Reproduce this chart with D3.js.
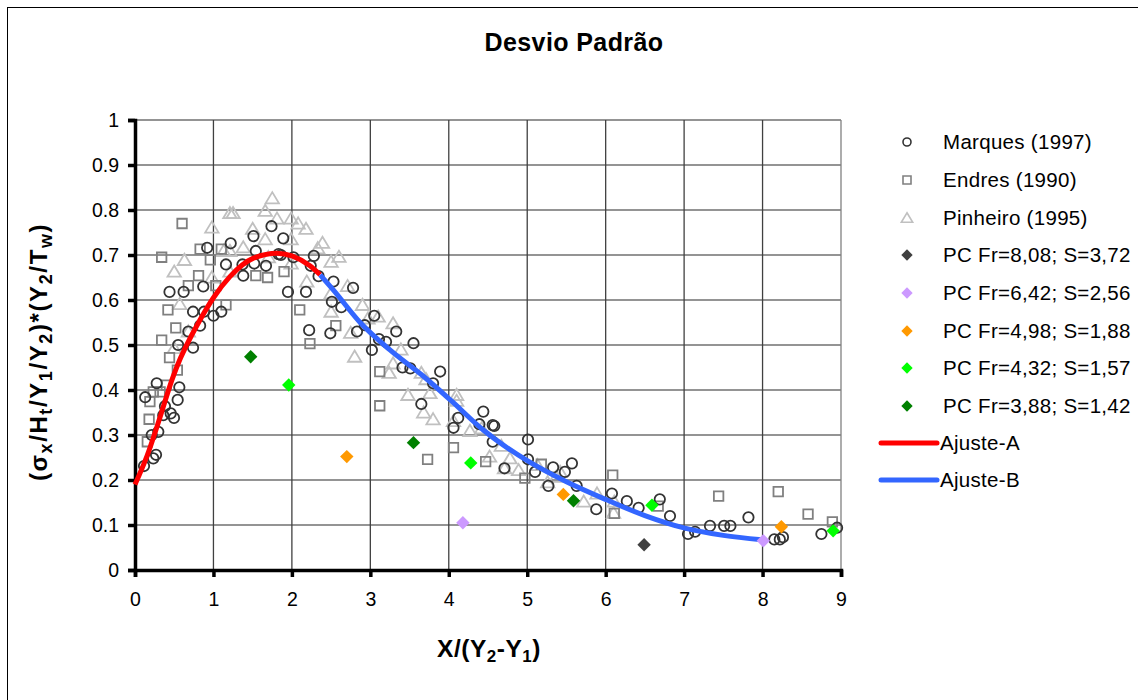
<!DOCTYPE html>
<html>
<head>
<meta charset="utf-8">
<script src="https://cdn.jsdelivr.net/npm/d3@7"></script>
<style>
body { margin: 0; background: #fff; }
text { font-family: "Liberation Sans", Arial, sans-serif; }
</style>
</head>
<body>
<script>
// data: [x, y]
var marques = [[0.13,0.384],[0.115,0.231],[0.233,0.248],[0.268,0.256],[0.213,0.3],[0.297,0.307],[0.36,0.344],
  [0.455,0.348],[0.497,0.338],[0.382,0.364],[0.544,0.378],[0.565,0.406],[0.277,0.415],[0.55,0.5],[0.74,0.494],
  [0.68,0.53],[0.83,0.543],[0.74,0.574],[0.88,0.574],[1.0,0.565],[1.1,0.574],[0.44,0.618],[0.62,0.618],[0.87,0.63],
  [1.38,0.654],[1.16,0.679],[1.37,0.679],[1.52,0.681],[1.67,0.676],[0.92,0.716],[1.22,0.726],[1.54,0.709],
  [1.51,0.742],[1.74,0.764],[1.89,0.737],[1.83,0.702],[1.86,0.7],[2.02,0.695],[1.95,0.618],[2.18,0.618],
  [2.22,0.533],[2.28,0.698],[2.24,0.676],[2.34,0.653],[2.53,0.641],[2.78,0.627],[2.51,0.596],[2.63,0.584],
  [3.05,0.565],[2.49,0.526],[2.83,0.53],[2.93,0.544],[3.33,0.53],[3.11,0.513],[3.2,0.507],[3.55,0.504],
  [3.02,0.489],[3.41,0.45],[3.51,0.448],[3.89,0.441],[3.8,0.415],[3.65,0.369],[4.12,0.338],[4.06,0.316],
  [4.44,0.352],[4.39,0.324],[4.56,0.322],[4.58,0.32],[4.56,0.285],[5.01,0.29],[5.01,0.246],[4.71,0.226],
  [5.33,0.228],[5.48,0.218],[5.57,0.237],[5.63,0.187],[5.27,0.187],[5.88,0.135],[6.08,0.17],[6.27,0.153],
  [6.42,0.138],[5.1,0.218],[6.69,0.157],[6.82,0.12],[7.05,0.08],[7.14,0.085],[7.33,0.098],[7.51,0.098],
  [7.59,0.098],[7.82,0.117],[8.15,0.068],[8.22,0.068],[8.26,0.073],[8.75,0.08],[8.95,0.094]];

var endres = [[0.19,0.374],[0.18,0.335],[0.157,0.285],[0.233,0.396],[0.32,0.396],[0.4,0.411],[0.6,0.77],
  [0.34,0.695],[0.83,0.713],[0.96,0.689],[1.1,0.713],[0.81,0.654],[1.03,0.632],[0.68,0.632],[1.54,0.654],
  [1.69,0.65],[1.9,0.663],[0.42,0.578],[1.16,0.589],[0.52,0.538],[2.1,0.578],[0.34,0.511],[0.44,0.472],
  [0.54,0.444],[2.23,0.503],[2.56,0.543],[3.12,0.441],[3.12,0.365],[3.73,0.246],[4.06,0.272],[4.47,0.241],
  [4.97,0.204],[5.18,0.235],[6.09,0.211],[6.11,0.126],[6.67,0.142],[7.44,0.164],[8.2,0.174],[8.58,0.124],
  [8.89,0.107]];

var pinheiro = [[1.75,0.826],[1.66,0.798],[1.21,0.793],[1.25,0.793],[0.98,0.761],[1.81,0.781],[1.99,0.781],
  [2.08,0.77],[2.18,0.758],[1.5,0.758],[1.66,0.735],[1.99,0.735],[0.63,0.689],[0.5,0.663],[0.98,0.65],
  [1.13,0.709],[1.21,0.709],[1.38,0.717],[1.21,0.663],[1.7,0.695],[1.99,0.681],[2.19,0.641],[0.57,0.591],
  [0.68,0.53],[0.5,0.493],[2.39,0.727],[2.33,0.715],[2.6,0.696],[2.5,0.685],[2.71,0.631],[2.5,0.615],
  [2.5,0.574],[2.9,0.589],[3.1,0.563],[2.97,0.559],[3.29,0.548],[2.75,0.527],[3.39,0.49],[3.29,0.459],
  [2.8,0.474],[3.24,0.438],[3.65,0.438],[3.71,0.424],[3.48,0.389],[3.76,0.393],[4.1,0.389],[4.1,0.376],
  [3.68,0.35],[3.8,0.335],[4.06,0.331],[4.27,0.309],[4.42,0.315],[4.67,0.276],[4.52,0.252],[4.78,0.248],
  [4.71,0.226],[4.89,0.222],[5.13,0.233],[5.26,0.195],[5.42,0.218],[5.37,0.207],[5.72,0.152],[5.89,0.17],
  [6.11,0.152],[6.1,0.127]];

var pc808 = [[6.49,0.056]];
var pc642 = [[4.18,0.105],[8.01,0.065]];
var pc498 = [[2.7,0.252],[5.46,0.168],[8.24,0.096]];
var pc432 = [[1.96,0.411],[4.28,0.238],[6.59,0.144],[8.9,0.087]];
var pc388 = [[1.475,0.474],[3.55,0.283],[5.59,0.154]];

var ajusteA = [[0,0.19],[0.15,0.252],[0.32,0.34],[0.47,0.422],[0.53,0.45],[0.83,0.556],[1.0,0.605],
  [1.21,0.652],[1.51,0.693],[1.81,0.704],[2.0,0.698],[2.23,0.676],[2.36,0.656]];
var ajusteB = [[2.36,0.656],[2.53,0.622],[2.87,0.55],[3.25,0.489],[3.68,0.43],[4.02,0.378],[4.44,0.311],
  [4.99,0.244],[5.5,0.196],[6.01,0.156],[6.5,0.121],[7.01,0.093],[7.5,0.077],[7.99,0.067]];

var xTicks = [0,1,2,3,4,5,6,7,8,9];
var yTicks = [0,0.1,0.2,0.3,0.4,0.5,0.6,0.7,0.8,0.9,1];

var W = 1138, H = 700;
var margin = {top: 120, left: 135, right: 297, bottom: 130};

var svg = d3.select("body").append("svg")
    .attr("width", W)
    .attr("height", H);

// outer chart frame
svg.append("rect")
    .attr("x", 7.5).attr("y", 7.5)
    .attr("width", W + 20).attr("height", H + 20)
    .attr("fill", "none").attr("stroke", "#000").attr("stroke-width", 1);

var x = d3.scaleLinear().domain([0, 9]).range([margin.left, W - margin.right]);
var y = d3.scaleLinear().domain([0, 1]).range([H - margin.bottom, margin.top]);

// grid
svg.append("g").selectAll("line")
    .data(yTicks.slice(1))
    .enter().append("line")
    .attr("x1", x(0)).attr("x2", x(9))
    .attr("y1", function(d) { return y(d); }).attr("y2", function(d) { return y(d); })
    .attr("stroke", "#707070").attr("stroke-width", 1.3);

svg.append("g").selectAll("line")
    .data(xTicks.slice(1))
    .enter().append("line")
    .attr("x1", function(d) { return x(d); }).attr("x2", function(d) { return x(d); })
    .attr("y1", y(0)).attr("y2", y(1))
    .attr("stroke", function(d) { return d == 9 ? "#808080" : "#404040"; })
    .attr("stroke-width", 1.3);

// axes
var xAxis = svg.append("g")
    .attr("transform", "translate(0," + y(0) + ")")
    .call(d3.axisBottom(x).tickValues(xTicks).tickSize(7).tickPadding(15).tickFormat(d3.format("d")));
var yAxis = svg.append("g")
    .attr("transform", "translate(" + x(0) + ",0)")
    .call(d3.axisLeft(y).tickValues(yTicks).tickSize(7).tickPadding(9).tickFormat(function(d) { return d == 0 || d == 1 ? d : d3.format(".1f")(d); }));

[xAxis, yAxis].forEach(function(a) {
    a.select(".domain").attr("stroke", "#000").attr("stroke-width", 3.5);
    a.selectAll(".tick line").attr("stroke", "#000").attr("stroke-width", 3.5);
    a.selectAll(".tick text").attr("font-size", 19.5).attr("fill", "#000")
        .style("font-family", "'Liberation Sans', Arial, sans-serif");
});

// fitted curves
var line = d3.line()
    .x(function(d) { return x(d[0]); })
    .y(function(d) { return y(d[1]); })
    .curve(d3.curveMonotoneX);

// markers
var plot = svg.append("g");

function circles(data, r, color) {
    plot.append("g").selectAll("circle")
        .data(data).enter().append("circle")
        .attr("cx", function(d) { return x(d[0]); })
        .attr("cy", function(d) { return y(d[1]); })
        .attr("r", r)
        .attr("fill", "none").attr("stroke", color).attr("stroke-width", 1.8);
}
function symbols(data, type, size, fill, stroke) {
    plot.append("g").selectAll("path")
        .data(data).enter().append("path")
        .attr("transform", function(d) { return "translate(" + x(d[0]) + "," + y(d[1]) + ")"; })
        .attr("d", d3.symbol().type(type).size(size))
        .attr("fill", fill)
        .attr("stroke", stroke)
        .attr("stroke-width", 1.8);
}
var diamond = {
    draw: function(ctx, size) {
        var r = Math.sqrt(size / 2);
        ctx.moveTo(0, -r); ctx.lineTo(r, 0); ctx.lineTo(0, r); ctx.lineTo(-r, 0); ctx.closePath();
    }
};
var triangle = {
    draw: function(ctx, size) {
        var s = Math.sqrt(size);
        ctx.moveTo(0, -s * 0.55); ctx.lineTo(s * 0.6, s * 0.45); ctx.lineTo(-s * 0.6, s * 0.45); ctx.closePath();
    }
};

symbols(pinheiro, triangle, 125, "none", "#c0c0c0");
symbols(endres, d3.symbolSquare, 90, "none", "#808080");
circles(marques, 5.2, "#333333");

plot.append("path").datum(ajusteA)
    .attr("d", line).attr("fill", "none").attr("stroke", "#ff0000").attr("stroke-width", 5);
plot.append("path").datum(ajusteB)
    .attr("d", line).attr("fill", "none").attr("stroke", "#3366ff").attr("stroke-width", 5);

var pcColors = ["#404040", "#cc99ff", "#ff9900", "#00ff00", "#008000"];
[pc808, pc642, pc498, pc432, pc388].forEach(function(s, i) {
    symbols(s, diamond, 90, pcColors[i], "none");
});

// title and axis titles
svg.append("text")
    .attr("x", 574).attr("y", 51)
    .attr("text-anchor", "middle")
    .attr("font-size", 25).attr("font-weight", "bold")
    .attr("letter-spacing", 0.4)
    .text("Desvio Padrão");

var xt = svg.append("text")
    .attr("x", 489).attr("y", 657)
    .attr("text-anchor", "middle")
    .attr("font-size", 24.5).attr("font-weight", "bold")
    .attr("letter-spacing", 0.5);
xt.append("tspan").text("X/(Y");
xt.append("tspan").attr("font-size", 17).attr("dy", 5).text("2");
xt.append("tspan").attr("dy", -5).text("-Y");
xt.append("tspan").attr("font-size", 17).attr("dy", 5).text("1");
xt.append("tspan").attr("dy", -5).text(")");

var yt = svg.append("text")
    .attr("transform", "translate(47,352) rotate(-90)")
    .attr("text-anchor", "middle")
    .attr("font-size", 24).attr("font-weight", "bold")
    .attr("letter-spacing", 1.6);
var ySub = 18;
yt.append("tspan").text("(σ");
yt.append("tspan").attr("font-size", ySub).attr("dy", 5).text("x");
yt.append("tspan").attr("dy", -5).text("/H");
yt.append("tspan").attr("font-size", ySub).attr("dy", 5).text("t");
yt.append("tspan").attr("dy", -5).text("/Y");
yt.append("tspan").attr("font-size", ySub).attr("dy", 5).text("1");
yt.append("tspan").attr("dy", -5).text("/Y");
yt.append("tspan").attr("font-size", ySub).attr("dy", 5).text("2");
yt.append("tspan").attr("dy", -5).text(")*(Y");
yt.append("tspan").attr("font-size", ySub).attr("dy", 5).text("2");
yt.append("tspan").attr("dy", -5).text("/T");
yt.append("tspan").attr("font-size", ySub).attr("dy", 5).text("w");
yt.append("tspan").attr("dy", -5).text(")");

// legend
var legendItems = [
    {label: "Marques (1997)", kind: "circle", color: "#333333"},
    {label: "Endres (1990)", kind: "square", color: "#808080"},
    {label: "Pinheiro (1995)", kind: "triangle", color: "#c0c0c0"},
    {label: "PC Fr=8,08; S=3,72", kind: "diamond", color: pcColors[0]},
    {label: "PC Fr=6,42; S=2,56", kind: "diamond", color: pcColors[1]},
    {label: "PC Fr=4,98; S=1,88", kind: "diamond", color: pcColors[2]},
    {label: "PC Fr=4,32; S=1,57", kind: "diamond", color: pcColors[3]},
    {label: "PC Fr=3,88; S=1,42", kind: "diamond", color: pcColors[4]},
    {label: "Ajuste-A", kind: "line", color: "#ff0000"},
    {label: "Ajuste-B", kind: "line", color: "#3366ff"}
];
var legendY = [142, 180, 218, 255, 293, 331, 368, 406, 443, 480];

var lg = svg.append("g").selectAll("g")
    .data(legendItems).enter().append("g")
    .attr("transform", function(d, i) { return "translate(0," + legendY[i] + ")"; });

lg.each(function(d) {
    var g = d3.select(this);
    if (d.kind == "circle") {
        g.append("circle").attr("cx", 907).attr("cy", 0).attr("r", 4)
            .attr("fill", "none").attr("stroke", d.color).attr("stroke-width", 1.6);
    } else if (d.kind == "square") {
        g.append("path").attr("transform", "translate(907,0)")
            .attr("d", d3.symbol().type(d3.symbolSquare).size(64))
            .attr("fill", "none").attr("stroke", d.color).attr("stroke-width", 1.6);
    } else if (d.kind == "triangle") {
        g.append("path").attr("transform", "translate(907,0)")
            .attr("d", d3.symbol().type(triangle).size(90))
            .attr("fill", "none").attr("stroke", d.color).attr("stroke-width", 1.6);
    } else if (d.kind == "diamond") {
        g.append("path").attr("transform", "translate(907,0)")
            .attr("d", d3.symbol().type(diamond).size(64))
            .attr("fill", d.color);
    } else {
        g.append("line").attr("x1", 881).attr("x2", 937).attr("y1", 0).attr("y2", 0)
            .attr("stroke", d.color).attr("stroke-width", 5).attr("stroke-linecap", "round");
    }
    g.append("text")
        .attr("x", d.kind == "line" ? 940 : 943).attr("y", 0).attr("dy", "0.36em")
        .attr("font-size", 20.5).attr("letter-spacing", 0.3)
        .text(d.label);
});
</script>
</body>
</html>
